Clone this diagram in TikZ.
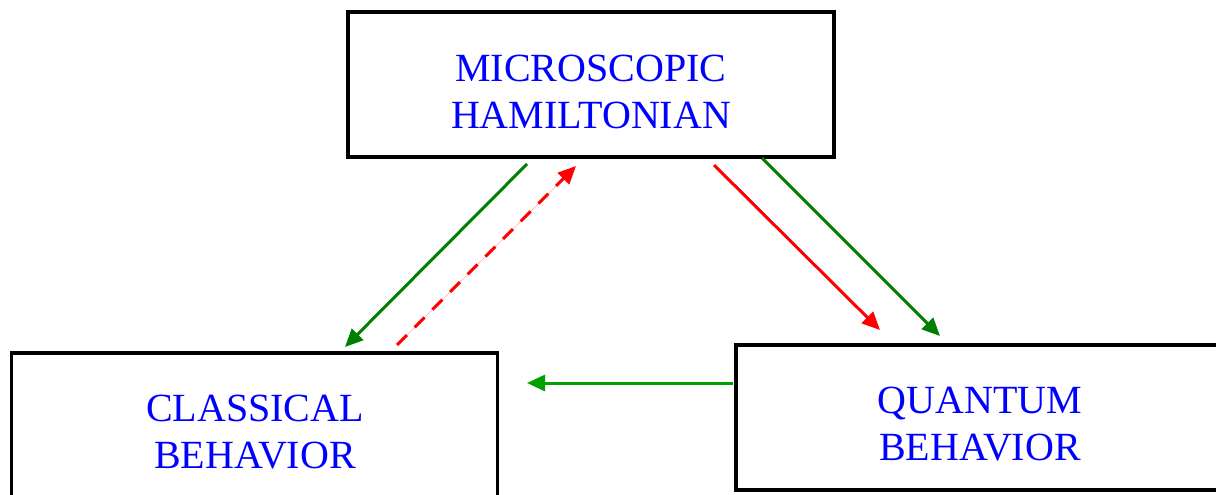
\documentclass[tikz,border=0pt]{standalone}
\usepackage{fontspec}
\setmainfont{Liberation Serif}
\usetikzlibrary{arrows.meta}
\definecolor{dgreen}{RGB}{0,128,0}
\definecolor{lgreen}{RGB}{0,160,0}
\definecolor{tblue}{RGB}{0,0,255}
\tikzset{
  box/.style={draw=black, line width=3.5pt, minimum width=486pt, minimum height=145pt, inner sep=0pt, anchor=center},
  lbl/.style={text=tblue, align=center, font=\fontsize{40}{47}\selectfont, inner sep=0pt},
  conn/.style={line width=3pt, -{Triangle[length=18pt,width=16pt]}},
  dashconn/.style={conn, dash pattern=on 14pt off 11pt},
}
\begin{document}
\begin{tikzpicture}[x=1pt,y=-1pt]
\useasboundingbox (0,0) rectangle (1216,495);
\begin{scope}
\clip (0,0) rectangle (1216,495);
\node[box] (micro) at (591,84.5) {};
\node[box] (classical) at (254.5,425.5) {};
\node[box] (quantum) at (979,417.5) {};
\node[lbl] (microtxt) at (591,92) {MICROSCOPIC\\HAMILTONIAN};
\node[lbl] (classtxt) at (255,432.5) {CLASSICAL\\BEHAVIOR};
\node[lbl] (quanttxt) at (980,424.5) {QUANTUM\\BEHAVIOR};
\end{scope}
\coordinate (g1s) at (527,164);
\coordinate (g1e) at (345,347);
\coordinate (r1s) at (397,345);
\coordinate (r1e) at (576,166);
\coordinate (r2s) at (714,165);
\coordinate (r2e) at (880,330);
\coordinate (g2s) at (762,158);
\coordinate (g2e) at (940,336);
\coordinate (g3s) at (733,383);
\coordinate (g3e) at (527,383);
\draw[conn, draw=dgreen, fill=dgreen] (g1s) -- (g1e);
\draw[dashconn, draw=red, fill=red] (r1s) -- (r1e);
\draw[conn, draw=red, fill=red] (r2s) -- (r2e);
\draw[conn, draw=dgreen, fill=dgreen] (g2s) -- (g2e);
\draw[conn, draw=lgreen, fill=lgreen] (g3s) -- (g3e);
\end{tikzpicture}
\end{document}
